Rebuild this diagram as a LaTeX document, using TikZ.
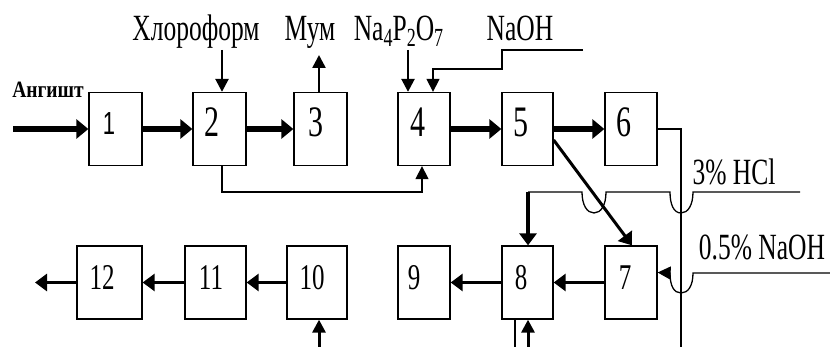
\documentclass[tikz,border=0pt]{standalone}
\usepackage{fontspec}
\setmainfont{Liberation Serif}
\newfontfamily\arialfont{Liberation Sans}
\usepackage{graphicx}
\usetikzlibrary{arrows.meta}
\newcommand\vsc[1]{\scalebox{1}[1.45]{#1}}
\newcommand\lbl[1]{\vsc{\fontsize{25.5}{26}\selectfont #1}}
\newcommand\dgt[1]{\vsc{\fontsize{30}{30}\selectfont #1}}
\newcommand\dgb[1]{\vsc{\fontsize{25}{25}\selectfont #1}}
\newcommand\chsub[1]{\raisebox{-0.15em}{\fontsize{18}{18}\selectfont #1}}
\begin{document}
\begin{tikzpicture}[x=1pt,y=-1pt,
 box/.style={draw, line width=1.3pt, minimum height=73pt, inner sep=0pt},
 txt/.style={inner sep=0pt, anchor=base},
 thickarr/.style={line width=6pt, -{Triangle[length=12pt,width=19pt]}},
 medarr/.style={line width=3.8pt, -{Triangle[length=12pt,width=17pt]}},
 smarr/.style={line width=2.5pt, -{Triangle[length=13pt,width=13pt]}},
 thinarr/.style={line width=1.3pt, -{Triangle[length=13pt,width=13pt]}},
 thin/.style={line width=1.3pt},
]
\useasboundingbox (0,0) rectangle (830,347);
% top row boxes
\node[box, minimum width=53pt] (b1) at (115.5,129) {};
\node[box, minimum width=53pt] (b2) at (219.5,129) {};
\node[box, minimum width=53pt] (b3) at (320.5,129) {};
\node[box, minimum width=52pt] (b4) at (424,129) {};
\node[box, minimum width=51pt] (b5) at (527.5,129) {};
\node[box, minimum width=52pt] (b6) at (631,129) {};
% bottom row boxes
\node[box, minimum width=65pt] (b12) at (109.5,282.5) {};
\node[box, minimum width=61pt] (b11) at (215.5,282.5) {};
\node[box, minimum width=60pt] (b10) at (317,282.5) {};
\node[box, minimum width=52pt] (b9) at (424,282.5) {};
\node[box, minimum width=51pt] (b8) at (527.5,282.5) {};
\node[box, minimum width=52pt] (b7) at (631,282.5) {};
% digits
\node[txt] (d1) at (109,135) {\vsc{\arialfont\fontsize{22}{22}\selectfont 1}};
\node[txt] (d2) at (212,137) {\dgt{2}};
\node[txt] (d3) at (316,137) {\dgt{3}};
\node[txt] (d4) at (418,137) {\dgt{4}};
\node[txt] (d5) at (521,137) {\dgt{5}};
\node[txt] (d6) at (624,137) {\dgt{6}};
\node[txt] (d12) at (102,290) {\dgb{12}};
\node[txt] (d11) at (211,290) {\dgb{11}};
\node[txt] (d10) at (312,290) {\dgb{10}};
\node[txt] (d9) at (414,290) {\dgb{9}};
\node[txt] (d8) at (521,290) {\dgb{8}};
\node[txt] (d7) at (625,290) {\dgb{7}};
% labels
\node[txt] (lA) at (48,98) {\scalebox{1}[1.2]{\bfseries\fontsize{19.5}{20}\selectfont Ангишт}};
\node[txt] (lChl) at (196,41) {\lbl{Хлороформ}};
\node[txt] (lMum) at (310,41) {\lbl{Мум}};
\node[txt] (lNa) at (398.5,41) {\lbl{Na\chsub{4}P\chsub{2}O\chsub{7}}};
\node[txt] (lNaOH) at (520,41) {\lbl{NaOH}};
\node[txt] (lHCl) at (734,185) {\lbl{3\% HCl}};
\node[txt] (lNaOH2) at (762,260) {\lbl{0.5\% NaOH}};
% coordinates
\coordinate (in1) at (13,129);
\coordinate (c2) at (222,50);
\coordinate (c3) at (319,55);
\coordinate (c4) at (408,50);
\coordinate (c5) at (583,50);
\coordinate (v1) at (681,347);
\coordinate (h1) at (800,192);
\coordinate (h2) at (830,273);
\coordinate (out1) at (35,282.5);
\coordinate (c10) at (319,347);
\coordinate (c8) at (528,347);
\coordinate (c8b) at (515,347);
% top row flow
\draw[thickarr] (in1) -- (b1.west);
\draw[thickarr] (b1) -- (b2);
\draw[thickarr] (b2) -- (b3);
\draw[thickarr] (b4) -- (b5);
\draw[thickarr] (b5) -- (b6);
\draw[smarr] (c2) -- (c2 |- b2.north);
\draw[smarr] (c3 |- b3.north) -- (c3);
\draw[smarr] (c4) -- (c4 |- b4.north);
\draw[thinarr] (c5) -| (502,69) -| ([xshift=9pt]b4.north);
\draw[thinarr] ([xshift=2.5pt]b2.south) -- ++(0,26) -| ([xshift=-2pt]b4.south);
\draw[thin] (b6.east) -| (v1);
% diagonal 5 -> 7
\draw[medarr, line width=3pt] ([yshift=-11pt]b5.east) -- ([xshift=1pt]b7.north);
% 3% HCl line with hops
\draw[thin] (h1) -- (693,192) .. controls (693,205) and (688,213) .. (681,213)
  .. controls (674,213) and (670,205) .. (670,192) -- (606,192)
  .. controls (606,205) and (601,213) .. (594,213)
  .. controls (587,213) and (582,205) .. (582,192) -- (528,192) coordinate (h1c);
\draw[medarr, line width=4pt] (h1c) -- (h1c |- b8.north);
% 0.5% NaOH line with hop
\draw[thinarr] (h2) -- (693,273) .. controls (693,286) and (688,293) .. (681,293)
  .. controls (674,293) and (670,286) .. (670,273) -- ([yshift=10pt]b7.east);
% bottom row flow
\draw[medarr] (b7) -- (b8);
\draw[medarr] (b8) -- (b9);
\draw[medarr] (b10) -- (b11);
\draw[medarr] (b11) -- (b12);
\draw[medarr] (b12.west) -- (out1);
\draw[smarr, line width=3pt] (c10) -- (c10 |- b10.south);
\draw[smarr, line width=3pt] (c8) -- (c8 |- b8.south);
\draw[thin] (c8b |- b8.south) -- (c8b);
\end{tikzpicture}
\end{document}
